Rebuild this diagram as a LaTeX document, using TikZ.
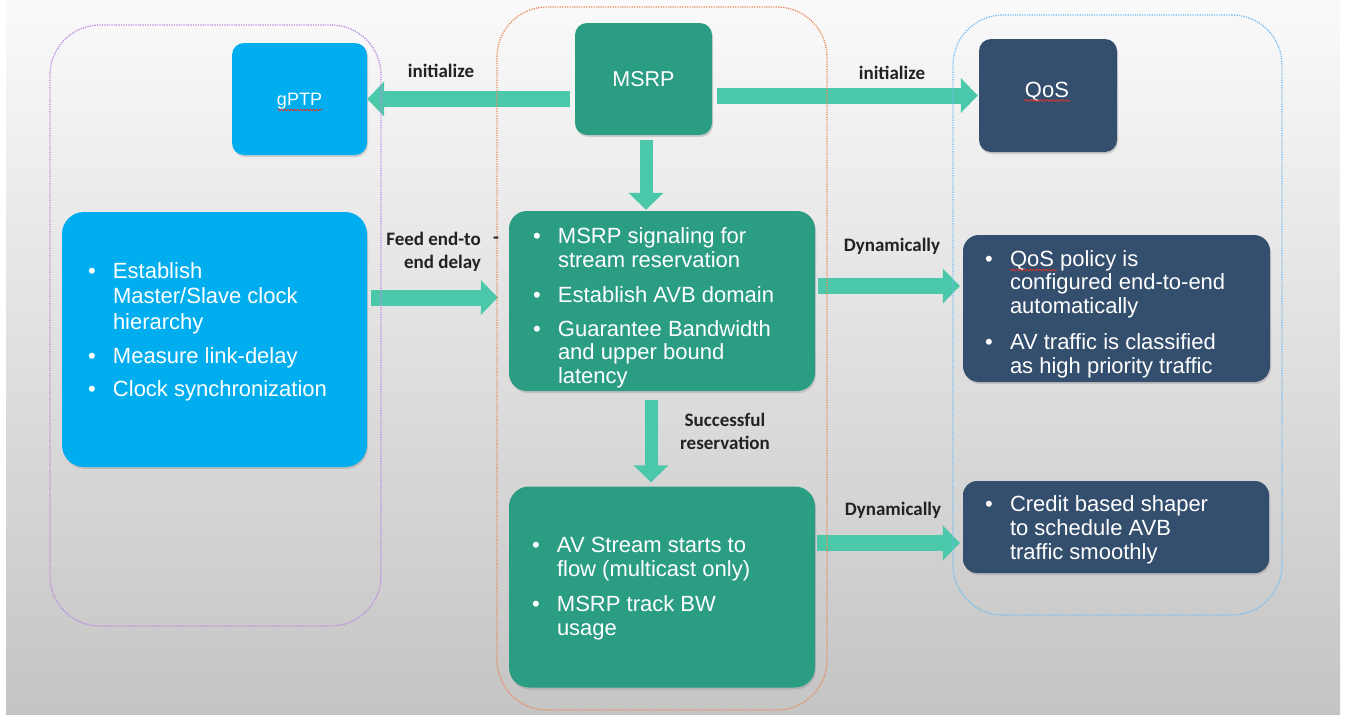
\documentclass[tikz,border=0pt]{standalone}
\usepackage{fontspec}
\setmainfont{Liberation Sans}
\newfontfamily\lblfont{Carlito}
\usetikzlibrary{arrows.meta,shadows,decorations.pathmorphing,calc}

\definecolor{gptpblue}{HTML}{00AEEF}
\definecolor{msrpgreen}{HTML}{2A9D83}
\definecolor{qosnavy}{HTML}{344E6D}
\definecolor{arrowmint}{HTML}{4BC8A9}
\definecolor{cpurple}{HTML}{B98AE0}
\definecolor{corange}{HTML}{E98A5E}
\definecolor{cblue}{HTML}{72BDF2}
\definecolor{lblgray}{HTML}{222222}
\definecolor{wavyred}{HTML}{D9352B}

\newcommand{\bl}{\makebox[25pt][l]{\textbullet}}
\newcommand{\ind}{\hspace*{25pt}}

\tikzset{
  cbox/.style={rectangle, rounded corners=12pt, fill=#1, draw=none, inner sep=0pt,
    drop shadow={opacity=0.3, shadow xshift=1pt, shadow yshift=-2pt}},
  btext/.style={align=left, anchor=west, text=white, inner sep=0pt},
  ttext/.style={text=white, inner sep=0pt},
  container/.style={rectangle, draw=#1, rounded corners=50pt, line width=1.3pt,
    dash pattern=on 1.2pt off 1.2pt, fill=none, inner sep=0pt},
  flow/.style={draw=arrowmint, line width=16pt, -{Triangle[width=34pt,length=17pt]}},
  vflow/.style={draw=arrowmint, line width=13pt, -{Triangle[width=34pt,length=17pt]}},
  lbl/.style={text=lblgray, font=\lblfont\bfseries\fontsize{19}{23}\selectfont, inner sep=0pt},
  wavy/.style={draw=wavyred, line width=0.7pt, decorate,
    decoration={snake, amplitude=0.9pt, segment length=3.2pt}},
}

\begin{document}
\begin{tikzpicture}[x=1pt, y=-1pt]
\useasboundingbox (0,0) rectangle (1345,715);
\fill[white] (0,0) rectangle (1345,715);
\shade[top color=white!98!black, middle color=white!92!black, bottom color=white!77!black]
  (6,0) rectangle (1340,714);

% ---- boxes
\node[cbox=gptpblue, minimum width=135pt, minimum height=112pt] (gptp) at (299.5,99) {};
\node[ttext, font=\fontsize{18}{20}\selectfont] (gptpT) at ($(gptp.center)+(0,2.5)$) {gPTP};

\node[cbox=gptpblue, rounded corners=22pt, minimum width=305pt, minimum height=255pt] (lbox) at (214.5,339.5) {};
\node[btext, font=\fontsize{22}{25.3}\selectfont] (lboxT) at ($(lbox.west)+(26,-7.5)$)
  {\bl Establish\\ \ind Master/Slave clock\\ \ind hierarchy\\[9pt]
   \bl Measure link-delay\\[8pt]
   \bl Clock synchronization};

\node[cbox=msrpgreen, minimum width=137pt, minimum height=112pt] (msrp) at (643.5,79) {};
\node[ttext, font=\fontsize{21.5}{24}\selectfont] (msrpT) at (msrp.center) {MSRP};

\node[cbox=msrpgreen, rounded corners=18pt, minimum width=306pt, minimum height=180pt] (content) at (662,301) {};
\node[btext, font=\fontsize{22}{23.6}\selectfont] (contentT) at ($(content.west)+(24,7)$)
  {\bl MSRP signaling for\\ \ind stream reservation\\[11pt]
   \bl Establish AVB domain\\[10.5pt]
   \bl Guarantee Bandwidth\\ \ind and upper bound\\ \ind latency};

\node[cbox=msrpgreen, rounded corners=20pt, minimum width=306pt, minimum height=201pt] (bottom) at (662,587) {};
\node[btext, font=\fontsize{22}{24}\selectfont] (bottomT) at ($(bottom.west)+(23,2)$)
  {\bl AV Stream starts to\\ \ind flow (multicast only)\\[11pt]
   \bl MSRP track BW\\ \ind usage};

\node[cbox=qosnavy, minimum width=138pt, minimum height=113pt] (qos) at (1048,95.5) {};
\node[ttext, font=\fontsize{22}{24}\selectfont] (qosT) at ($(qos.center)+(-1,-4)$) {QoS};

\node[cbox=qosnavy, rounded corners=16pt, minimum width=307pt, minimum height=147pt] (qos1) at (1116.5,308.5) {};
\node[btext, font=\fontsize{22}{23.6}\selectfont] (qos1T) at ($(qos1.west)+(22,5.5)$)
  {\bl QoS policy is\\ \ind configured end-to-end\\ \ind automatically\\[12.5pt]
   \bl AV traffic is classified\\ \ind as high priority traffic};

\node[cbox=qosnavy, rounded corners=14pt, minimum width=306pt, minimum height=92pt] (qos2) at (1116,527) {};
\node[btext, font=\fontsize{22}{24}\selectfont] (qos2T) at ($(qos2.west)+(22,2.5)$)
  {\bl Credit based shaper\\ \ind to schedule AVB\\ \ind traffic smoothly};

% ---- spell-check underlines
\draw[wavy] ($(gptp.center)+(-22,11)$) -- ($(gptp.center)+(23,11)$);
\draw[wavy] ($(qos.center)+(-24,5)$) -- ($(qos.center)+(22,5)$);
\draw[wavy] ($(qos1.center)+(-106.5,-38.5)$) -- ($(qos1.center)+(-60,-38.5)$);

% ---- arrows
\draw[flow] ($(msrp.west |- gptp.east)+(-5,0)$) -- (gptp.east);
\draw[flow] ($(msrp.east |- qos.west)+(5,0)$) -- ($(qos.west)+(-1,0)$);
\draw[vflow] ($(msrp.south)+(2.5,5)$) -- ($(msrp.south |- content.north)+(2.5,-1)$);
\draw[flow] ($(lbox.east)+(4,-42)$) -- ($(lbox.east -| content.west)+(-11,-42)$);
\draw[flow] ($(content.east)+(3,-15)$) -- ($(content.east -| qos1.west)+(-3,-15)$);
\draw[vflow] ($(content.south)+(-11,9)$) -- ($(content.south |- bottom.north)+(-11,-4)$);
\draw[flow] ($(bottom.east)+(2,-44)$) -- ($(bottom.east -| qos2.west)+(-3,-44)$);

% ---- containers
\node[container=cpurple, minimum width=331pt, minimum height=601pt] (grpL) at (215.5,325.5) {};
\node[container=corange, minimum width=330pt, minimum height=703pt] (grpM) at (662,358.5) {};
\node[container=cblue, minimum width=329pt, minimum height=600pt] (grpR) at (1117.5,315) {};

% ---- labels
\node[lbl] (init1) at (441,71) {initialize};
\node[lbl] (init2) at (892,73) {initialize};
\node[lbl, align=right, anchor=east] (feed) at (481,252) {Feed end-to\\end delay};
\node[lbl] (hyph) at (496,240) {-};
\node[lbl] (dyn1) at (892,246) {Dynamically};
\node[lbl] (dyn2) at (893,510) {Dynamically};
\node[lbl, align=center] (succ) at (725,431) {Successful\\reservation};
\end{tikzpicture}
\end{document}
